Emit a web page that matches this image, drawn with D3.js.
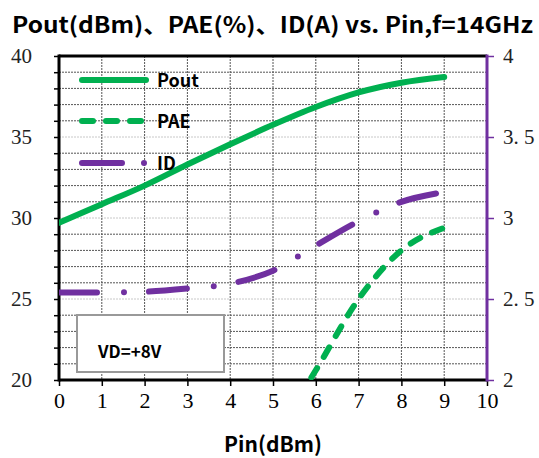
<!DOCTYPE html>
<html>
<head>
<meta charset="utf-8">
<script src="https://cdn.jsdelivr.net/npm/d3@7"></script>
<style>
  body { margin: 0; background: #fff; }
  svg { display: block; }
</style>
</head>
<body>
<svg id="chart"></svg>
<script>
'use strict';

// data
const pin = [0, 1, 2, 3, 4, 5, 6, 7, 8, 9];
const pout = [29.7, 30.85, 32.0, 33.3, 34.55, 35.75, 36.85, 37.75, 38.35, 38.7];
const pae = [null, null, null, null, null, 16.4, 20.6, 25.0, 28.0, 29.4];
const id = [2.54, 2.54, 2.545, 2.565, 2.595, 2.675, 2.83, 2.98, 3.1, 3.16];

const xTicks = [0, 1, 2, 3, 4, 5, 6, 7, 8, 9, 10];
const leftTicks = [20, 25, 30, 35, 40];
const rightTicks = [2, 2.5, 3, 3.5, 4];
const rightTickLabels = ['2', '2. 5', '3', '3. 5', '4'];
const legendNames = ['Pout', 'PAE', 'ID'];

const W = 539, H = 458;
const m = { left: 59, right: 487, top: 56, bottom: 380 };
const green = '#00b050', purple = '#7030a0';
const sansBold = '"Noto Sans CJK SC", "Noto Sans", sans-serif';
const serif = '"Liberation Serif", "DejaVu Serif", serif';

const svg = d3.select('#chart').attr('width', W).attr('height', H);

const x = d3.scaleLinear().domain([0, 10]).range([m.left, m.right]);
const yL = d3.scaleLinear().domain([20, 40]).range([m.bottom, m.top]);
const yR = d3.scaleLinear().domain([2, 4]).range([m.bottom, m.top]);

svg.append('defs').append('clipPath').attr('id', 'plot')
    .append('rect')
    .attr('x', m.left).attr('y', m.top)
    .attr('width', m.right - m.left).attr('height', m.bottom - m.top);

/**
 * Title
 */
svg.append('text')
    .attr('x', 12).attr('y', 33)
    .style('font-family', sansBold)
    .style('font-weight', 'bold')
    .style('font-size', '22px')
    .attr('textLength', 521)
    .attr('lengthAdjust', 'spacingAndGlyphs')
    .text('Pout(dBm)、PAE(%)、ID(A) vs. Pin,f=14GHz');

/**
 * Grid
 */
const grid = svg.append('g');
d3.range(21, 40).forEach(v => {
    grid.append('line')
        .attr('x1', m.left).attr('x2', m.right)
        .attr('y1', yL(v)).attr('y2', yL(v))
        .style('stroke', v % 5 == 0 ? '#c8c8c8' : '#555')
        .style('stroke-width', 1)
        .style('stroke-dasharray', '2 1');
});
d3.range(1, 10).forEach(v => {
    grid.append('line')
        .attr('x1', x(v)).attr('x2', x(v))
        .attr('y1', m.top).attr('y2', m.bottom)
        .style('stroke', '#555')
        .style('stroke-width', 1)
        .style('stroke-dasharray', '2 1');
});

/**
 * Axes
 */
const xAxis = svg.append('g')
    .attr('transform', `translate(0,${m.bottom})`)
    .call(d3.axisBottom(x).tickValues(xTicks).tickSize(6).tickPadding(6).tickFormat(d3.format('d')));
xAxis.select('.domain').remove();
xAxis.selectAll('line').style('stroke', '#000').style('stroke-width', 1.5);
xAxis.selectAll('text')
    .style('font-family', serif).style('font-size', '22px').style('fill', '#000');

const lAxis = svg.append('g')
    .attr('transform', `translate(${m.left},0)`)
    .call(d3.axisLeft(yL).tickValues(d3.range(20, 41)).tickSize(5).tickFormat(''));
lAxis.select('.domain').remove();
lAxis.selectAll('line').style('stroke', '#000').style('stroke-width', 1.5);
svg.append('g').selectAll('text')
    .data(leftTicks)
    .join('text')
    .attr('x', 32).attr('y', d => yL(d) + 7)
    .attr('text-anchor', 'end')
    .style('font-family', serif).style('font-size', '21px').style('fill', '#222')
    .text(d => d);

const rAxis = svg.append('g')
    .attr('transform', `translate(${m.right},0)`)
    .call(d3.axisRight(yR).tickValues(rightTicks).tickSize(7).tickFormat(''));
rAxis.select('.domain').remove();
rAxis.selectAll('line').style('stroke', purple).style('stroke-width', 1.5);
svg.append('g').selectAll('text')
    .data(rightTicks)
    .join('text')
    .attr('x', 503).attr('y', d => yR(d) + 7)
    .style('font-family', serif).style('font-size', '21px').style('fill', '#222')
    .text((d, i) => rightTickLabels[i]);

// frame lines
svg.append('line')
    .attr('x1', m.left).attr('x2', m.right).attr('y1', m.top).attr('y2', m.top)
    .style('stroke', '#000').style('stroke-width', 3);
svg.append('line')
    .attr('x1', m.left).attr('x2', m.right).attr('y1', m.bottom).attr('y2', m.bottom)
    .style('stroke', '#000').style('stroke-width', 3);
svg.append('line')
    .attr('x1', m.left).attr('x2', m.left).attr('y1', m.top - 1.5).attr('y2', m.bottom + 1.5)
    .style('stroke', '#000').style('stroke-width', 3);
svg.append('line')
    .attr('x1', m.right).attr('x2', m.right).attr('y1', m.top - 1.5).attr('y2', m.bottom + 1.5)
    .style('stroke', purple).style('stroke-width', 3);

svg.append('text')
    .attr('x', (m.left + m.right) / 2).attr('y', 452)
    .attr('text-anchor', 'middle')
    .style('font-family', sansBold).style('font-weight', 'bold').style('font-size', '21px')
    .text('Pin(dBm)');

/**
 * VD box
 */
svg.append('rect')
    .attr('x', 77).attr('y', 315).attr('width', 147).attr('height', 57)
    .style('fill', '#fff').style('stroke', '#999').style('stroke-width', 2);
svg.append('text')
    .attr('x', 98).attr('y', 358)
    .style('font-family', sansBold).style('font-weight', 'bold').style('font-size', '17px')
    .text('VD=+8V');

/**
 * Series
 */
const styles = [
    { color: green, width: 6, dash: null },
    { color: green, width: 6, dash: '11 13' },
    { color: purple, width: 6, dash: '38 27 0 25' }
];

const lineL = d3.line()
    .defined(d => d[1] != null)
    .x(d => x(d[0])).y(d => yL(d[1]))
    .curve(d3.curveMonotoneX);
const lineR = d3.line()
    .x(d => x(d[0])).y(d => yR(d[1]))
    .curve(d3.curveMonotoneX);

const series = svg.append('g').attr('clip-path', 'url(#plot)');
const paths = [
    lineL(pin.map((p, i) => [p, pout[i]])),
    lineL(pin.map((p, i) => [p, pae[i]])),
    lineR(pin.map((p, i) => [p, id[i]]))
];
paths.forEach((d, i) => {
    series.append('path')
        .attr('d', d)
        .style('fill', 'none')
        .style('stroke', styles[i].color)
        .style('stroke-width', styles[i].width)
        .style('stroke-linecap', 'round')
        .style('stroke-dasharray', styles[i].dash);
});

/**
 * Legend
 */
const legend = svg.append('g');
const legendY = [80, 121, 163];
legendNames.forEach((name, i) => {
    legend.append('line')
        .attr('x1', 82).attr('x2', 146)
        .attr('y1', legendY[i]).attr('y2', legendY[i])
        .style('stroke', styles[i].color)
        .style('stroke-width', styles[i].width)
        .style('stroke-linecap', 'round')
        .style('stroke-dasharray', i == 2 ? '40 22 0 22' : (i == 1 ? '11 13' : null));
    legend.append('text')
        .attr('x', 157).attr('y', legendY[i] + 7)
        .style('font-family', sansBold).style('font-weight', 'bold').style('font-size', '18px')
        .text(name);
});
</script>
</body>
</html>
